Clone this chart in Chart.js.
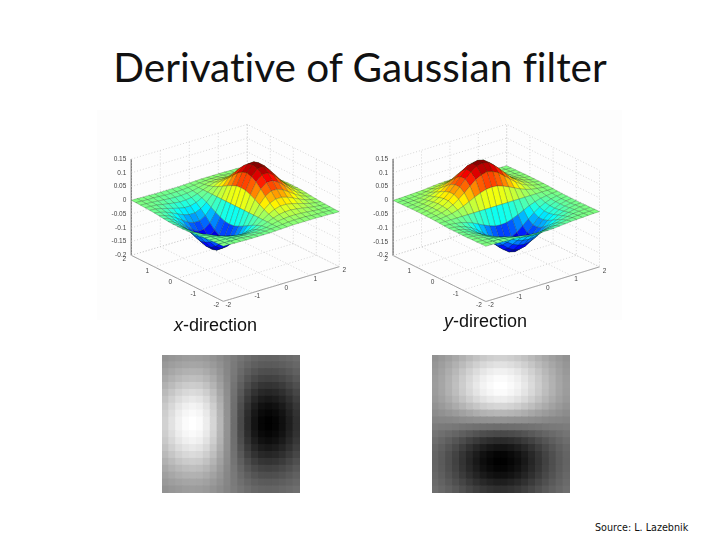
<!DOCTYPE html>
<html>
<head>
<meta charset="utf-8">
<script src="https://cdn.jsdelivr.net/npm/chart.js@4/dist/chart.umd.min.js"></script>
<style>
  html, body { margin: 0; padding: 0; background: #fff; }
  #page { position: relative; width: 720px; height: 540px; overflow: hidden; }
  #page canvas, #page div { position: absolute; }
  #photo { left: 97px; top: 110px; width: 525px; height: 210px; background: #fdfdfd; }
  #title { left: 0; width: 720px; top: 42px; text-align: center; font: 40.5px Lato, sans-serif; font-variant-ligatures: none; color: #111; white-space: nowrap; }
  .caption { font: 18px "Liberation Sans", sans-serif; color: #111; white-space: nowrap; }
  #source { left: 595px; top: 522px; font: 9.6px "DejaVu Sans", sans-serif; color: #111; white-space: nowrap; }
  .soft { filter: blur(0.45px); }
</style>
</head>
<body>
<div id="page">
  <div id="photo"></div>
  <div id="title">Derivative of Gaussian filter</div>
  <canvas id="surfaceX" class="soft" width="260" height="210" style="left:100px;top:110px"></canvas>
  <canvas id="surfaceY" class="soft" width="260" height="210" style="left:360px;top:110px"></canvas>
  <div class="caption" style="left:174px;top:315px"><i>x</i>-direction</div>
  <div class="caption" style="left:444px;top:311px"><i>y</i>-direction</div>
  <canvas id="heatX" width="138" height="138" style="left:162px;top:355px"></canvas>
  <canvas id="heatY" width="138" height="138" style="left:432px;top:355px"></canvas>
  <div id="source">Source: L. Lazebnik</div>
</div>
<script>
// axis ticks of the 3d plots
const gridCoords = [-2, -1.8, -1.6, -1.4, -1.2, -1, -0.8, -0.6, -0.4, -0.2, 0, 0.2, 0.4, 0.6, 0.8, 1, 1.2, 1.4, 1.6, 1.8, 2];
const planeTicks = [-2, -1, 0, 1, 2];
const heightTicks = [-0.2, -0.15, -0.1, -0.05, 0, 0.05, 0.1, 0.15];

// surface height in thousandths, rows go along the left axis, columns along the right axis
const surfaceHeights = [
  [0, 0, -1, -1, -2, -2, -2, -2, -2, -1, 0, 1, 2, 2, 2, 2, 2, 1, 1, 0, 0],
  [0, -1, -2, -2, -3, -5, -5, -5, -4, -2, 0, 2, 4, 5, 5, 5, 3, 2, 2, 1, 0],
  [-1, -2, -3, -5, -7, -9, -10, -10, -8, -5, 0, 5, 8, 10, 10, 9, 7, 5, 3, 2, 1],
  [-2, -3, -5, -9, -13, -16, -19, -18, -15, -8, 0, 8, 15, 18, 19, 16, 13, 9, 5, 3, 2],
  [-3, -5, -9, -15, -21, -27, -31, -31, -25, -14, 0, 14, 25, 31, 31, 27, 21, 15, 9, 5, 3],
  [-4, -8, -14, -23, -33, -42, -48, -48, -39, -22, 0, 22, 39, 48, 48, 42, 33, 23, 14, 8, 4],
  [-6, -12, -20, -33, -47, -61, -69, -69, -56, -32, 0, 32, 56, 69, 69, 61, 47, 33, 20, 12, 6],
  [-8, -15, -27, -43, -62, -80, -92, -91, -74, -42, 0, 42, 74, 91, 92, 80, 62, 43, 27, 15, 8],
  [-10, -19, -33, -53, -76, -98, -112, -111, -91, -51, 0, 51, 91, 111, 112, 98, 76, 53, 33, 19, 10],
  [-11, -21, -37, -59, -85, -110, -127, -126, -102, -58, 0, 58, 102, 126, 127, 110, 85, 59, 37, 21, 11],
  [-11, -22, -39, -62, -89, -115, -132, -131, -107, -60, 0, 60, 107, 131, 132, 115, 89, 62, 39, 22, 11],
  [-11, -21, -37, -59, -85, -110, -127, -126, -102, -58, 0, 58, 102, 126, 127, 110, 85, 59, 37, 21, 11],
  [-10, -19, -33, -53, -76, -98, -112, -111, -91, -51, 0, 51, 91, 111, 112, 98, 76, 53, 33, 19, 10],
  [-8, -15, -27, -43, -62, -80, -92, -91, -74, -42, 0, 42, 74, 91, 92, 80, 62, 43, 27, 15, 8],
  [-6, -12, -20, -33, -47, -61, -69, -69, -56, -32, 0, 32, 56, 69, 69, 61, 47, 33, 20, 12, 6],
  [-4, -8, -14, -23, -33, -42, -48, -48, -39, -22, 0, 22, 39, 48, 48, 42, 33, 23, 14, 8, 4],
  [-3, -5, -9, -15, -21, -27, -31, -31, -25, -14, 0, 14, 25, 31, 31, 27, 21, 15, 9, 5, 3],
  [-2, -3, -5, -9, -13, -16, -19, -18, -15, -8, 0, 8, 15, 18, 19, 16, 13, 9, 5, 3, 2],
  [-1, -2, -3, -5, -7, -9, -10, -10, -8, -5, 0, 5, 8, 10, 10, 9, 7, 5, 3, 2, 1],
  [0, -1, -2, -2, -3, -5, -5, -5, -4, -2, 0, 2, 4, 5, 5, 5, 3, 2, 2, 1, 0],
  [0, 0, -1, -1, -2, -2, -2, -2, -2, -1, 0, 1, 2, 2, 2, 2, 2, 1, 1, 0, 0]
];

// gray level of each cell of the x-direction image, top row first
const heatGrays = [
  [146, 150, 153, 156, 157, 156, 153, 147, 140, 132, 124, 116, 109, 103, 100, 99, 100, 103, 106, 110],
  [153, 158, 162, 165, 166, 165, 161, 154, 145, 134, 122, 111, 102, 95, 91, 90, 91, 94, 98, 103],
  [160, 167, 173, 177, 178, 177, 171, 162, 150, 135, 121, 106, 94, 85, 79, 78, 79, 83, 89, 96],
  [168, 177, 184, 189, 191, 189, 182, 171, 155, 137, 119, 101, 85, 74, 67, 65, 67, 72, 79, 88],
  [177, 187, 197, 203, 205, 203, 194, 180, 161, 140, 116, 95, 76, 62, 53, 51, 53, 59, 69, 79],
  [186, 198, 209, 216, 219, 216, 206, 190, 167, 142, 114, 89, 66, 50, 40, 37, 40, 47, 58, 70],
  [194, 208, 220, 228, 232, 228, 217, 198, 173, 144, 112, 83, 58, 39, 28, 24, 28, 36, 48, 62],
  [201, 216, 230, 239, 243, 239, 226, 206, 178, 145, 111, 78, 50, 30, 17, 13, 17, 26, 40, 55],
  [206, 222, 237, 246, 250, 246, 233, 211, 181, 146, 110, 75, 45, 23, 10, 6, 10, 19, 34, 50],
  [209, 226, 241, 251, 255, 251, 237, 214, 183, 147, 109, 73, 42, 19, 5, 1, 5, 15, 30, 47],
  [209, 226, 241, 251, 255, 251, 237, 214, 183, 147, 109, 73, 42, 19, 5, 1, 5, 15, 30, 47],
  [206, 222, 237, 246, 250, 246, 233, 211, 181, 146, 110, 75, 45, 23, 10, 6, 10, 19, 34, 50],
  [201, 216, 230, 239, 243, 239, 226, 206, 178, 145, 111, 78, 50, 30, 17, 13, 17, 26, 40, 55],
  [194, 208, 220, 228, 232, 228, 217, 198, 173, 144, 112, 83, 58, 39, 28, 24, 28, 36, 48, 62],
  [186, 198, 209, 216, 219, 216, 206, 190, 167, 142, 114, 89, 66, 50, 40, 37, 40, 47, 58, 70],
  [177, 187, 197, 203, 205, 203, 194, 180, 161, 140, 116, 95, 76, 62, 53, 51, 53, 59, 69, 79],
  [168, 177, 184, 189, 191, 189, 182, 171, 155, 137, 119, 101, 85, 74, 67, 65, 67, 72, 79, 88],
  [160, 167, 173, 177, 178, 177, 171, 162, 150, 135, 121, 106, 94, 85, 79, 78, 79, 83, 89, 96],
  [153, 158, 162, 165, 166, 165, 161, 154, 145, 134, 122, 111, 102, 95, 91, 90, 91, 94, 98, 103],
  [146, 150, 153, 156, 157, 156, 153, 147, 140, 132, 124, 116, 109, 103, 100, 99, 100, 103, 106, 110]
];

// the y-direction pictures are the same filter turned by 90 degrees
function transpose(rows) {
  return rows[0].map((_, c) => rows.map(row => row[c]));
}

// jet colormap, t between 0 and 1
function jetColor(t) {
  const ch = offset => Math.round(255 * Math.max(0, Math.min(1, 1.5 - Math.abs(4 * t - offset))));
  return 'rgb(' + ch(3) + ',' + ch(2) + ',' + ch(1) + ')';
}

function addSurface(canvasId, heights, view) {
  const project = (u, v, z) => ({
    x: view.ox + u * view.ux + v * view.vx,
    y: view.oy + u * view.uy + v * view.vy - z * view.zk
  });
  const zMin = heightTicks[0];
  const zMax = heightTicks[heightTicks.length - 1];
  const datasets = [];

  // first dataset is painted last, so the mesh goes front to back
  for (let i = 0; i < gridCoords.length - 1; i++) {
    for (let j = 0; j < gridCoords.length - 1; j++) {
      const corners = [[i, j], [i, j + 1], [i + 1, j + 1], [i + 1, j], [i, j]];
      const z = corners.map(c => heights[c[0]][c[1]] / 1000);
      const mean = (z[0] + z[1] + z[2] + z[3]) / 4;
      datasets.push({
        data: corners.map((c, k) => project(gridCoords[c[1]], gridCoords[c[0]], z[k])),
        showLine: true,
        fill: 'shape',
        backgroundColor: jetColor((mean + 0.132) / 0.264),
        borderColor: 'rgba(20,50,20,0.45)',
        borderWidth: 0.5,
        pointRadius: 0
      });
    }
  }

  const addLine = (points, color, width, dash) => datasets.push({
    data: points.map(p => project(p[0], p[1], p[2])),
    showLine: true,
    fill: false,
    borderColor: color,
    borderWidth: width,
    borderDash: dash,
    pointRadius: 0
  });

  // dotted grid on the floor and the two back walls
  planeTicks.forEach(t => {
    addLine([[t, -2, zMin], [t, 2, zMin], [t, 2, zMax]], '#c6c6c6', 0.7, [1, 2]);
    addLine([[-2, t, zMin], [2, t, zMin], [2, t, zMax]], '#c6c6c6', 0.7, [1, 2]);
  });
  heightTicks.forEach(t => {
    addLine([[-2, 2, t], [2, 2, t], [2, -2, t]], '#c6c6c6', 0.7, [1, 2]);
  });
  addLine([[-2, 2, zMax], [-2, 2, zMin], [-2, -2, zMin], [2, -2, zMin]], '#777', 0.7, []);

  const tickLabels = {
    id: 'tickLabels',
    afterDraw(chart) {
      const ctx = chart.ctx;
      const put = (text, p, dx, dy, align) => {
        ctx.textAlign = align;
        ctx.fillText(text, chart.scales.x.getPixelForValue(p.x) + dx, chart.scales.y.getPixelForValue(p.y) + dy);
      };
      ctx.save();
      ctx.font = '6.5px "Liberation Sans", sans-serif';
      ctx.fillStyle = '#444';
      ctx.textBaseline = 'middle';
      heightTicks.forEach(t => put(String(t), project(-2, 2, t), -5, 0, 'right'));
      planeTicks.forEach(t => {
        put(String(t), project(-2, t, zMin), -7, 4, 'center');
        put(String(t), project(t, -2, zMin), 5, 4, 'center');
      });
      ctx.restore();
    }
  };

  return new Chart(document.getElementById(canvasId), {
    type: 'scatter',
    data: { datasets: datasets },
    plugins: [tickLabels],
    options: {
      responsive: false,
      animation: false,
      events: [],
      layout: { padding: 0, autoPadding: false },
      plugins: { legend: { display: false }, tooltip: { enabled: false } },
      scales: {
        x: { type: 'linear', display: false, min: 0, max: 260 },
        y: { type: 'linear', display: false, min: 0, max: 210, reverse: true }
      }
    }
  });
}

function addHeat(canvasId, grays) {
  const points = [];
  const colors = [];
  grays.forEach((row, r) => row.forEach((gray, c) => {
    points.push({ x: c, y: r });
    colors.push('rgb(' + gray + ',' + gray + ',' + gray + ')');
  }));
  return new Chart(document.getElementById(canvasId), {
    type: 'scatter',
    data: {
      datasets: [{
        data: points,
        pointStyle: 'rect',
        // a bit oversized so the squares overlap and no white seams show
        pointRadius: 5.7,
        pointBorderWidth: 0,
        backgroundColor: colors
      }]
    },
    options: {
      responsive: false,
      animation: false,
      events: [],
      layout: { padding: 0, autoPadding: false },
      plugins: { legend: { display: false }, tooltip: { enabled: false } },
      scales: {
        x: { type: 'linear', display: false, min: -0.5, max: grays[0].length - 0.5 },
        y: { type: 'linear', display: false, min: -0.5, max: grays.length - 0.5, reverse: true }
      }
    }
  });
}

addSurface('surfaceX', surfaceHeights, { ox: 135.3, oy: 96, ux: 29, uy: -8.67, vx: -23, vy: -11.5, zk: 275 });
addSurface('surfaceY', transpose(surfaceHeights), { ox: 136.3, oy: 96, ux: 28.4, uy: -8.67, vx: -23.2, vy: -11.5, zk: 276 });
addHeat('heatX', heatGrays);
addHeat('heatY', transpose(heatGrays));
</script>
</body>
</html>
